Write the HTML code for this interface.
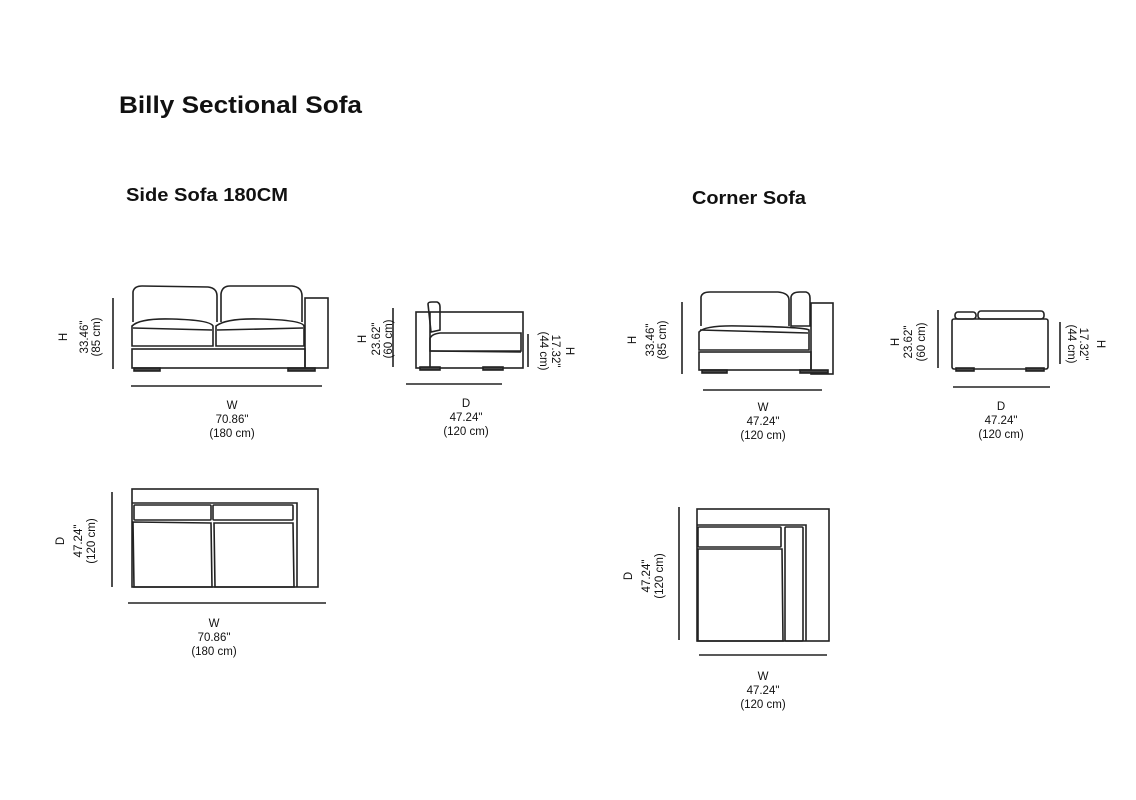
<!DOCTYPE html>
<html><head><meta charset="utf-8"><style>
html,body{margin:0;padding:0;background:#fff;}
svg{display:block}
text{font-family:"Liberation Sans",sans-serif;fill:#111}
.t{font-size:11.5px;text-anchor:middle}
</style></head><body>
<svg width="1136" height="800" viewBox="0 0 1136 800" xmlns="http://www.w3.org/2000/svg">
<rect width="1136" height="800" fill="#fff"/>
<text x="119" y="113" font-size="24" font-weight="bold" textLength="243" lengthAdjust="spacingAndGlyphs">Billy Sectional Sofa</text>
<text x="126" y="201" font-size="18" font-weight="bold" textLength="162" lengthAdjust="spacingAndGlyphs">Side Sofa 180CM</text>
<text x="692" y="204" font-size="18" font-weight="bold" textLength="114" lengthAdjust="spacingAndGlyphs">Corner Sofa</text>

<g fill="none" stroke="#222" stroke-width="1.6">
<path d="M133 322 L133 292 Q134 286 142 286 L208 287 Q217 288 217 296 L217 322"/>
<path d="M221 322 L221 294 Q222 286 230 286 L292 286 Q302 287 302 296 L302 322"/>
<path d="M132 346 L132 326 Q140 318 172 319 Q210 320 213 326 L213 346 Z"/>
<path d="M216 346 L216 326 Q226 318 260 319 Q302 320 304 326 L304 346 Z"/>
<line x1="133" y1="328" x2="212" y2="330"/><line x1="217" y1="330" x2="303" y2="328"/>
<rect x="132" y="349" width="173" height="19"/>
<rect x="305" y="298" width="23" height="70"/>
<rect x="134" y="368" width="26" height="3" fill="#444"/>
<rect x="288" y="368" width="27" height="3" fill="#444"/>
<line x1="113" y1="298" x2="113" y2="369"/>
<line x1="131" y1="386" x2="322" y2="386"/>

<rect x="416" y="312" width="107" height="56"/>
<line x1="430" y1="312" x2="430" y2="368"/>
<path d="M428 304 Q428 302 432 302 L437 302 Q440 303 440 307 L440 330 L431 332 Z"/>
<path d="M430 351 L430 338 Q432 334 440 333 L521 333 L521 351 Z"/>
<line x1="430" y1="351" x2="521" y2="352"/>
<rect x="420" y="367" width="20" height="3" fill="#444"/>
<rect x="483" y="367" width="20" height="3" fill="#444"/>
<line x1="393" y1="308" x2="393" y2="367"/>
<line x1="528" y1="334" x2="528" y2="367"/>
<line x1="406" y1="384" x2="502" y2="384"/>

<path d="M701 326 L701 297 Q702 292 710 292 L778 292 Q789 293 789 300 L789 326"/>
<path d="M791 326 L791 297 Q792 292 800 292 L806 292 Q810 293 810 298 L810 326 Z"/>
<rect x="811" y="303" width="22" height="71"/>
<path d="M699 350 L699 332 Q705 325 740 326 Q805 327 809 330 L809 350 Z"/>
<line x1="700" y1="330" x2="808" y2="333"/>
<rect x="699" y="352" width="112" height="18"/>
<rect x="702" y="370" width="25" height="3" fill="#444"/>
<rect x="800" y="370" width="28" height="3" fill="#444"/>
<line x1="682" y1="302" x2="682" y2="374"/>
<line x1="703" y1="390" x2="822" y2="390"/>

<rect x="952" y="319" width="96" height="50" rx="2"/>
<rect x="955" y="312" width="21" height="7" rx="3"/>
<rect x="978" y="311" width="66" height="8" rx="3"/>
<rect x="956" y="368" width="18" height="3" fill="#444"/>
<rect x="1026" y="368" width="18" height="3" fill="#444"/>
<line x1="938" y1="310" x2="938" y2="368"/>
<line x1="1060" y1="322" x2="1060" y2="364"/>
<line x1="953" y1="387" x2="1050" y2="387"/>

<rect x="132" y="489" width="186" height="98"/>
<path d="M132 503 L297 503 L297 587"/>
<rect x="134" y="505" width="77" height="15" rx="1"/>
<rect x="213" y="505" width="80" height="15" rx="1"/>
<path d="M133 522 L211 523 L212 587 L134 587 Z"/>
<path d="M214 523 L293 523 L294 587 L215 587 Z"/>
<line x1="112" y1="492" x2="112" y2="587"/>
<line x1="128" y1="603" x2="326" y2="603"/>

<rect x="697" y="509" width="132" height="132"/>
<path d="M697 525 L806 525 L806 641"/>
<rect x="698" y="527" width="83" height="20" rx="1"/>
<rect x="785" y="527" width="18" height="114" rx="1"/>
<path d="M698 549 L782 549 L783 641 L698 641 Z"/>
<line x1="679" y1="507" x2="679" y2="640"/>
<line x1="699" y1="655" x2="827" y2="655"/>
</g>

<text class="t" transform="translate(67,337) rotate(-90)">H</text>
<text class="t" transform="translate(88,337) rotate(-90)">33.46"</text>
<text class="t" transform="translate(100,337) rotate(-90)">(85 cm)</text>
<text class="t" x="232" y="409">W</text>
<text class="t" x="232" y="423">70.86"</text>
<text class="t" x="232" y="437">(180 cm)</text>

<text class="t" transform="translate(366,339) rotate(-90)">H</text>
<text class="t" transform="translate(380,339) rotate(-90)">23.62"</text>
<text class="t" transform="translate(392,339) rotate(-90)">(60 cm)</text>
<text class="t" transform="translate(540,351) rotate(90)">(44 cm)</text>
<text class="t" transform="translate(552,351) rotate(90)">17.32"</text>
<text class="t" transform="translate(566,351) rotate(90)">H</text>
<text class="t" x="466" y="407">D</text>
<text class="t" x="466" y="421">47.24"</text>
<text class="t" x="466" y="435">(120 cm)</text>

<text class="t" transform="translate(636,340) rotate(-90)">H</text>
<text class="t" transform="translate(654,340) rotate(-90)">33.46"</text>
<text class="t" transform="translate(666,340) rotate(-90)">(85 cm)</text>
<text class="t" x="763" y="411">W</text>
<text class="t" x="763" y="425">47.24"</text>
<text class="t" x="763" y="439">(120 cm)</text>

<text class="t" transform="translate(899,342) rotate(-90)">H</text>
<text class="t" transform="translate(912,342) rotate(-90)">23.62"</text>
<text class="t" transform="translate(925,342) rotate(-90)">(60 cm)</text>
<text class="t" transform="translate(1068,344) rotate(90)">(44 cm)</text>
<text class="t" transform="translate(1080,344) rotate(90)">17.32"</text>
<text class="t" transform="translate(1097,344) rotate(90)">H</text>
<text class="t" x="1001" y="410">D</text>
<text class="t" x="1001" y="424">47.24"</text>
<text class="t" x="1001" y="438">(120 cm)</text>

<text class="t" transform="translate(64,541) rotate(-90)">D</text>
<text class="t" transform="translate(82,541) rotate(-90)">47.24"</text>
<text class="t" transform="translate(95,541) rotate(-90)">(120 cm)</text>
<text class="t" x="214" y="627">W</text>
<text class="t" x="214" y="641">70.86"</text>
<text class="t" x="214" y="655">(180 cm)</text>

<text class="t" transform="translate(632,576) rotate(-90)">D</text>
<text class="t" transform="translate(650,576) rotate(-90)">47.24"</text>
<text class="t" transform="translate(663,576) rotate(-90)">(120 cm)</text>
<text class="t" x="763" y="680">W</text>
<text class="t" x="763" y="694">47.24"</text>
<text class="t" x="763" y="708">(120 cm)</text>
</svg>
</body></html>
